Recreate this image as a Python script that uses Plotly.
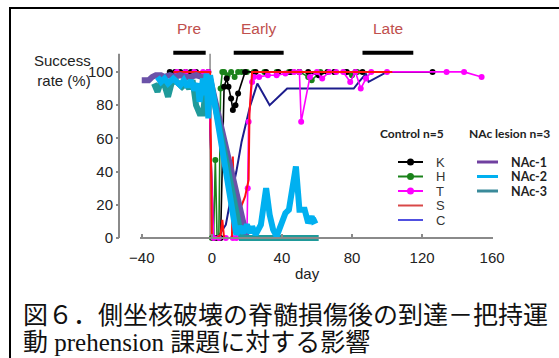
import plotly.graph_objects as go

# ---------------- data ----------------
K_day = [-24, -21, -18, -15, -12, -9, -7, -4, -2, 1, 3, 5, 7, 8.5, 9.5, 11, 12, 13.5, 15, 19, 25, 31, 38, 45, 50, 55, 61, 66, 70, 77, 82, 86, 126]
K_val = [100, 100, 100, 100, 100, 100, 98, 96, 100, 0, 0, 0, 91, 96, 91, 84, 77, 80, 87, 100, 100, 100, 100, 100, 100, 100, 98, 100, 100, 100, 100, 100, 100]

H_day = [0, 1, 2, 3, 4, 5, 6, 7, 9, 11, 13, 15, 17, 20, 24, 30, 37, 44, 50, 55, 57, 62, 70, 76, 80, 83]
H_val = [0, 0, 47, 0, 0, 90, 100, 100, 98, 100, 97, 100, 100, 100, 100, 100, 100, 100, 100, 97, 95, 100, 100, 100, 98, 100]

T_day = [-20, -15, -10, -5, -2, 1, 4, 8, 12, 14, 17, 20, 20.5, 21, 23, 24, 27, 32, 37, 42, 47, 50, 51, 56, 60, 63, 67, 71, 75, 79, 82, 85, 88, 91, 100, 134, 144, 154]
T_val = [100, 100, 100, 100, 100, 0, 0, 0, 0, 0, 0, 0, 30, 70, 94, 97, 97, 98, 98, 99, 100, 100, 70, 97, 100, 96, 100, 100, 100, 94, 100, 90, 96, 100, 100, 100, 100, 97]

S_day = [-22, -15, -8, -1, 0, 3, 5, 6, 7, 10, 11.5, 12, 13, 16, 19, 21, 21.5, 23, 40, 60, 80, 103]
S_val = [100, 100, 100, 100, 0, 0, 2, 11, 0, 0, 0, 49, 3, 17, 25, 35, 75, 100, 100, 100, 100, 100]

C_day = [0, 3, 5, 8, 11, 14, 17, 19, 22, 26, 33, 43, 81, 84, 88, 89.5, 100, 126]
C_val = [0, 0, 3, 8, 25, 40, 58, 67, 80, 93, 80, 90, 90, 94, 99, 94, 100, 100]

N1_day = [-40, -36, -34, -32, -29, -27, -24, -21, -18, -15, -12, -9, -6, -3, -1, 20, 25, 30, 35, 39]
N1_val = [95, 95, 97, 98, 98, 97, 98, 97, 98, 97, 97, 98, 97, 96, 96, 0, 0, 0, 0, 0]

N2_day = [-31, -29, -27, -25, -22, -20, -18, -16, -14, -12, -10, -8, -7, -5, -4, -3, -2, -1, 14, 16, 18, 20, 22, 23, 25, 28, 31, 33, 35, 37, 40, 42, 44, 46, 48, 50, 53, 55, 57, 58, 60]
N2_val = [97, 94, 96, 93, 96, 94, 92, 95, 91, 95, 89, 93, 82, 96, 86, 99, 72, 98, 2, 7, 3, 8, 3, 7, 2, 8, 30, 14, 5, 1, 11, 15, 17, 30, 43, 17, 17, 9, 13, 10, 11]

N3_day = [-33, -31, -29, -27, -25, -23, -21, -19, -17, -15, -13, -11, -9, -7, -5, -4, -3, -1, 17, 25, 35, 45, 55, 61]
N3_val = [93, 88, 94, 92, 85, 93, 95, 93, 91, 93, 90, 95, 80, 75, 75, 85, 92, 95, 0, 0, 0, 0, 0, 0]

period_names = ["Pre", "Early", "Late"]
period_start = [-22, 12.5, 86]
period_end = [-3.5, 41, 115]

x_ticks = [-40, 0, 40, 80, 120, 160]
x_tick_text = ["−40", "0", "40", "80", "120", "160"]
y_ticks = [0, 20, 40, 60, 80, 100]

control_names = ["K", "H", "T", "S", "C"]
control_colors = ["#000000", "#1a821a", "#ff00ff", "#ff1010", "#1c1c8c"]
control_legend_colors = ["#000000", "#1a821a", "#ff00ff", "#d84848", "#5050e0"]
control_markers = [True, True, True, False, False]
nac_names = ["NAc-1", "NAc-2", "NAc-3"]
nac_colors = ["#6b52a8", "#00b0f0", "#1f9a9a"]
nac_legend_colors = ["#7040a0", "#00b0f0", "#3a8a9a"]

# ---------------- layout helpers ----------------
W, H = 559, 358
ML, MR, MT, MB = 110, 66, 47, 115
PW = W - ML - MR
PH = H - MT - MB


def px(xp):
    return (xp - ML) / PW


def py(yp):
    return (MT + PH - yp) / PH


fig = go.Figure()

ctrl = [(K_day, K_val), (H_day, H_val), (T_day, T_val), (S_day, S_val), (C_day, C_val)]
draw_order = [4, 1, 0, 2, 3]
for i in draw_order:
    d, v = ctrl[i]
    fig.add_trace(go.Scatter(
        x=d, y=v, name=control_names[i],
        mode="lines+markers" if control_markers[i] else "lines",
        line=dict(color=control_colors[i], width=1.6 if control_markers[i] else 2),
        marker=dict(size=6, color=control_colors[i]),
        showlegend=False, hoverinfo="skip"))

nac = [(N1_day, N1_val), (N3_day, N3_val), (N2_day, N2_val)]
nac_idx = [0, 2, 1]
for (d, v), i in zip(nac, nac_idx):
    fig.add_trace(go.Scatter(
        x=d, y=v, name=nac_names[i], mode="lines",
        line=dict(color=nac_colors[i], width=6),
        showlegend=False, hoverinfo="skip"))

shapes = []
annotations = []


def note(x, y, text, size, color="#222222", family="Liberation Sans", xanchor="center", xref="paper", align="center"):
    annotations.append(dict(x=x, y=y, xref=xref, yref="paper", text=text, showarrow=False,
                            xanchor=xanchor, yanchor="middle", align=align,
                            font=dict(family=family, size=size, color=color)))


# y axis line (offset) and injury line
shapes.append(dict(type="line", xref="paper", yref="y", x0=px(119), x1=px(119), y0=0, y1=111,
                   line=dict(color="#8a8a8a", width=2)))
shapes.append(dict(type="line", xref="x", yref="y", x0=-1, x1=-1, y0=0, y1=111,
                   line=dict(color="#8a8a8a", width=1.5), layer="below"))

# period bars and labels
for name, s, e in zip(period_names, period_start, period_end):
    shapes.append(dict(type="line", xref="x", yref="y", x0=s, x1=e, y0=111.5, y1=111.5,
                       line=dict(color="#000000", width=4)))
    note((s + e) / 2, py(28), name, 15.5, color="#c0504d", xref="x")

# outer frame
shapes.append(dict(type="rect", xref="paper", yref="paper", x0=px(10), x1=px(566), y0=py(8), y1=py(366),
                   line=dict(color="#000000", width=2)))

# legend (manual)
note(px(412), py(133), "<b>Control n=5</b>", 12, family="Lato")
note(px(509), py(133), "<b>NAc lesion n=3</b>", 12, family="Lato")
rows = [162, 176.5, 191, 205.5, 220]
for i, name in enumerate(control_names):
    yy = py(rows[i])
    shapes.append(dict(type="line", xref="paper", yref="paper", x0=px(398), x1=px(423), y0=yy, y1=yy,
                       line=dict(color=control_legend_colors[i], width=2)))
    if control_markers[i]:
        shapes.append(dict(type="circle", xref="paper", yref="paper", x0=px(407), x1=px(414),
                           y0=py(rows[i] + 3.5), y1=py(rows[i] - 3.5),
                           fillcolor=control_legend_colors[i], line=dict(width=0)))
    note(px(440), yy, name, 13, color="#333333")
for i, name in enumerate(nac_names):
    yy = py(rows[i])
    shapes.append(dict(type="line", xref="paper", yref="paper", x0=px(477), x1=px(498), y0=yy, y1=yy,
                       line=dict(color=nac_legend_colors[i], width=3)))
    note(px(509), yy, "<b>" + name + "</b>", 12.5, family="Lato", xanchor="left")

# axis titles
note(px(93), py(70), "Success<br>rate (%)", 15, xanchor="right", align="right")
note(px(307), py(273), "day", 15)

# caption
cap_family = "Liberation Serif, Noto Sans CJK JP"
note(px(21), py(315), "図６．側坐核破壊の脊髄損傷後の到達－把持運", 25, color="#111111",
     family=cap_family, xanchor="left")
note(px(21), py(342), "動 prehension 課題に対する影響", 25, color="#111111",
     family=cap_family, xanchor="left")

fig.update_layout(
    width=W, height=H,
    margin=dict(l=ML, r=MR, t=MT, b=MB),
    paper_bgcolor="white", plot_bgcolor="white",
    showlegend=False, hovermode=False,
    xaxis=dict(domain=[px(140), 1], anchor="free", position=py(238),
               range=[-41, 160.5], tickvals=x_ticks, ticktext=x_tick_text,
               showline=True, linecolor="#8a8a8a", linewidth=2,
               ticks="inside", ticklen=3, tickcolor="#8a8a8a", tickwidth=1.5,
               showgrid=False, zeroline=False, ticklabelstandoff=6,
               tickfont=dict(family="Liberation Sans", size=15, color="#222222")),
    yaxis=dict(anchor="free", position=px(119), range=[-3, 115], tickvals=y_ticks,
               showline=False, ticks="outside", ticklen=3, tickcolor="#8a8a8a", tickwidth=1.5,
               showgrid=False, zeroline=False,
               tickfont=dict(family="Liberation Sans", size=15, color="#222222")),
    shapes=shapes,
    annotations=annotations,
)

fig.write_html("out.html", config={"displayModeBar": False},
               post_script="document.body.style.margin='0px';")
